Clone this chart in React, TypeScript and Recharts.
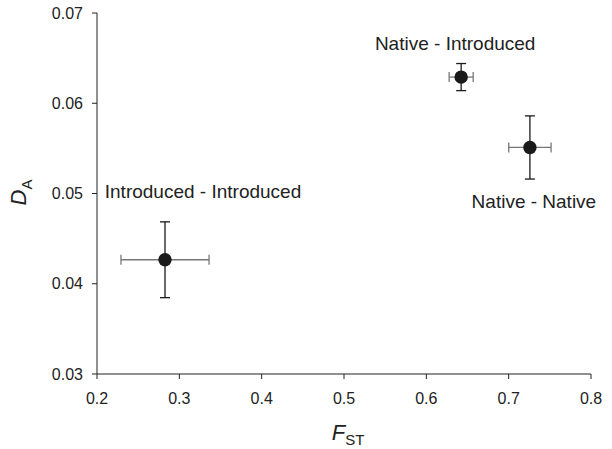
import React from "react";
import { ScatterChart, Scatter, XAxis, YAxis, ErrorBar } from "recharts";

const pairs = ["Introduced - Introduced", "Native - Introduced", "Native - Native"];
const fst = [0.2826, 0.6423, 0.7258];
const fstErr = [0.0535, 0.0146, 0.0257];
const da = [0.04266, 0.0629, 0.0551];
const daErr = [0.0042, 0.0015, 0.0035];

const xTicks = [0.2, 0.3, 0.4, 0.5, 0.6, 0.7, 0.8];
const yTicks = [0.03, 0.04, 0.05, 0.06, 0.07];

const points = pairs.map((name, i) => ({
  name,
  fst: fst[i],
  da: da[i],
  fstErr: fstErr[i],
  daErr: daErr[i],
}));

// where each pair's caption sits relative to its marker (px)
const captionOffset: Record<string, [number, number]> = {
  "Introduced - Introduced": [38, -62],
  "Native - Introduced": [-6, -27],
  "Native - Native": [4, 61],
};

const FONT = "'Liberation Sans', Arial, Helvetica, sans-serif";
const INK = "#222";

function Marker(props: Record<string, unknown>) {
  const { cx, cy, payload } = props as { cx: number; cy: number; payload: { name: string } };
  if (cx == null || cy == null) return null;
  const [dx, dy] = captionOffset[payload.name] ?? [0, -20];
  return (
    <g>
      <circle cx={cx} cy={cy} r={6.7} fill="#1a1a1a" />
      <text x={cx + dx} y={cy + dy} textAnchor="middle" fontSize={19} fill={INK} fontFamily={FONT}>
        {payload.name}
      </text>
    </g>
  );
}

function YTitle(props: Record<string, unknown>) {
  const { viewBox } = props as { viewBox: { x: number; y: number; height: number } };
  const cx = viewBox.x + 26;
  const cy = viewBox.y + viewBox.height / 2 - 1;
  return (
    <text x={cx} y={cy} transform={`rotate(-90 ${cx} ${cy})`} textAnchor="middle" fill={INK} fontFamily={FONT}>
      <tspan fontSize={22} fontStyle="italic">D</tspan>
      <tspan fontSize={15} dy={6}>A</tspan>
    </text>
  );
}

function XTitle(props: Record<string, unknown>) {
  const { viewBox } = props as { viewBox: { x: number; y: number; width: number } };
  const cx = viewBox.x + viewBox.width / 2 + 4;
  return (
    <text x={cx} y={440} textAnchor="middle" fill={INK} fontFamily={FONT}>
      <tspan fontSize={22} fontStyle="italic">F</tspan>
      <tspan fontSize={15} dy={5}>ST</tspan>
    </text>
  );
}

export default function App() {
  return (
    <div style={{ position: "absolute", left: 0, top: 0, background: "#fff" }}>
      <ScatterChart width={612} height={449} margin={{ top: 13, right: 21, bottom: 0, left: 0 }}>
        <XAxis
          type="number"
          dataKey="fst"
          domain={[0.2, 0.8]}
          ticks={xTicks}
          tickFormatter={(v) => v.toFixed(1)}
          height={75}
          tickSize={5}
          tickMargin={14}
          stroke={INK}
          tick={{ fill: INK, fontSize: 16, fontFamily: FONT }}
          label={{ content: XTitle }}
        />
        <YAxis
          type="number"
          dataKey="da"
          domain={[0.03, 0.07]}
          ticks={yTicks}
          tickFormatter={(v) => v.toFixed(2)}
          width={97}
          tickSize={5}
          tickMargin={9}
          stroke={INK}
          tick={{ fill: INK, fontSize: 16, fontFamily: FONT }}
          label={{ content: YTitle }}
        />
        <Scatter data={points} shape={<Marker />} isAnimationActive={false}>
          <ErrorBar dataKey="fstErr" direction="x" width={5} stroke="#777" strokeWidth={1.3} />
          <ErrorBar dataKey="daErr" direction="y" width={5} stroke="#1a1a1a" strokeWidth={1.3} />
        </Scatter>
      </ScatterChart>
    </div>
  );
}
